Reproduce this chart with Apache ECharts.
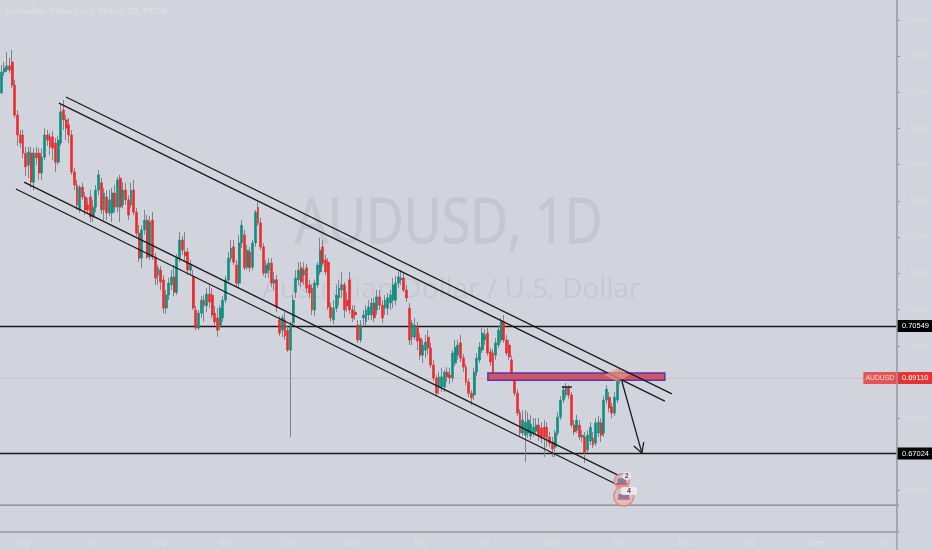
<!DOCTYPE html>
<html><head><meta charset="utf-8"><style>html,body{margin:0;padding:0;background:#d1d4dc}#c{width:932px;height:550px}</style>
<script src="https://cdn.jsdelivr.net/npm/echarts@6/dist/echarts.min.js"></script></head><body><div id="c"></div>
<script>
// Prices in 1/10000 of a US dollar
const opens=[7698,7756,7762,7773,7784,7720,7637,7582,7582,7532,7499,7532,7452,7532,7532,7477,7521,7582,7577,7577,7560,7507,7560,7651,7624,7610,7582,7480,7444,7375,7438,7411,7389,7411,7356,7383,7430,7450,7375,7411,7367,7367,7422,7383,7463,7389,7430,7403,7389,7430,
7369,7311,7242,7320,7347,7245,7347,7245,7195,7209,7182,7104,7140,7168,7190,7148,7242,7292,7259,7259,7209,7190,7099,7049,7090,7126,7110,7143,7140,7090,7077,7057,7077,7126,7182,7242,7273,7223,7173,7284,7306,7217,7259,7217,7284,7383,7339,7273,7201,7209,
7228,7173,7182,7071,7043,7071,7043,6988,7063,7148,7182,7215,7195,7215,7168,7159,7099,7168,7204,7273,7237,7231,7107,7071,7104,7132,7154,7168,7126,7182,7099,7093,7057,7016,7077,7066,7085,7085,7118,7099,7135,7112,7104,7104,7118,7126,7126,7173,7182,7187,
7154,7104,7024,7024,7052,7021,6974,6988,7024,6994,6947,6911,6886,6886,6886,6927,6919,6911,6952,6974,7008,6966,6941,6900,6869,6864,6927,6961,6988,7016,7035,6983,6980,6974,7002,7016,7066,7016,7002,6961,6905,6869,6814,6759,6753,6759,6751,6759,6764,6781,
6773,6775,6775,6748,6734,6720,6759,6803,6850,6864,6883,6864,6781,6767,6781,6748,6748,6712,6737,6745,6731,6759,6787,6759,6850,6858,6831,6814,6850,6905,6925];
const closes=[7756,7767,7773,7762,7720,7637,7582,7560,7532,7494,7535,7452,7532,7519,7477,7521,7582,7568,7549,7546,7507,7568,7646,7624,7601,7582,7480,7444,7389,7438,7411,7375,7375,7356,7383,7430,7472,7375,7422,7367,7403,7422,7383,7458,7383,7430,7403,7361,7430,7369,
7311,7242,7320,7347,7245,7342,7245,7187,7215,7176,7104,7140,7173,7190,7148,7242,7292,7264,7248,7209,7226,7104,7049,7090,7126,7112,7143,7121,7085,7066,7043,7104,7126,7182,7242,7270,7231,7173,7284,7333,7215,7264,7215,7284,7369,7339,7273,7201,7223,7228,
7173,7182,7107,7035,7077,7027,6988,7052,7126,7187,7209,7176,7209,7159,7146,7099,7173,7223,7264,7228,7204,7107,7077,7104,7140,7159,7168,7099,7110,7099,7077,7085,7016,7057,7085,7099,7107,7118,7077,7135,7112,7077,7126,7132,7140,7168,7173,7190,7187,7154,
7132,7016,7063,7057,7013,6974,7002,7010,6994,6947,6911,6869,6914,6914,6927,6914,6911,6980,6996,7002,6966,6941,6900,6869,6856,6927,6966,6996,7035,7030,6980,6955,6919,7008,7043,7066,7016,6980,6969,6911,6869,6814,6759,6795,6789,6795,6784,6775,6781,6751,
6745,6748,6745,6731,6715,6759,6803,6850,6878,6883,6864,6781,6762,6795,6748,6753,6704,6753,6775,6726,6787,6789,6753,6850,6880,6828,6814,6858,6905,6925,6911];
const highs=[7775,7784,7811,7795,7817,7734,7651,7596,7596,7549,7549,7549,7546,7549,7546,7546,7601,7596,7588,7593,7574,7579,7665,7679,7637,7629,7596,7491,7458,7444,7450,7425,7408,7430,7403,7444,7485,7463,7436,7430,7430,7436,7444,7466,7472,7452,7450,7416,7450,7458,
7380,7333,7333,7375,7361,7358,7369,7256,7223,7220,7195,7154,7187,7209,7223,7253,7314,7303,7314,7270,7237,7209,7110,7099,7137,7140,7159,7168,7159,7110,7104,7112,7137,7193,7259,7292,7292,7237,7306,7347,7320,7278,7273,7292,7375,7397,7353,7284,7237,7242,
7242,7204,7195,7082,7085,7093,7054,7066,7140,7209,7231,7231,7231,7226,7182,7170,7182,7231,7298,7292,7251,7242,7118,7126,7168,7182,7204,7176,7148,7204,7112,7112,7071,7071,7099,7112,7126,7132,7132,7154,7154,7126,7140,7146,7154,7187,7193,7204,7209,7204,
7168,7118,7071,7077,7066,7035,7016,7030,7043,7008,6961,6919,6927,6939,6933,6941,6939,6988,7016,7016,7030,6977,6950,6908,6878,6939,6980,7010,7049,7046,7049,6994,6991,7021,7057,7077,7085,7030,7016,6972,6914,6880,6825,6822,6822,6817,6809,6800,6800,6800,
6789,6795,6789,6762,6748,6767,6817,6861,6889,6897,6891,6872,6795,6809,6795,6767,6762,6767,6789,6762,6800,6806,6800,6861,6891,6872,6842,6872,6919,6936,6933];
const lows=[7695,7745,7756,7753,7712,7629,7552,7546,7519,7469,7463,7436,7430,7499,7458,7458,7513,7552,7527,7513,7480,7499,7552,7596,7568,7560,7472,7430,7375,7367,7403,7361,7367,7342,7342,7369,7416,7364,7347,7347,7358,7342,7369,7369,7342,7380,7389,7347,7380,7361,
7303,7231,7215,7306,7240,7237,7237,7168,7168,7154,7090,7088,7126,7154,7137,7140,7231,7251,7231,7195,7195,7099,7043,7043,7077,7066,7093,7104,7077,7057,7024,7043,7066,7118,7173,7231,7223,7165,7162,7270,7209,7209,7204,7209,7273,7331,7264,7193,7187,7187,
7162,7154,7093,7027,7024,7016,6983,6748,7057,7132,7168,7162,7168,7146,7132,7085,7082,7159,7195,7220,7195,7099,7066,7060,7093,7112,7132,7077,7093,7088,7066,7071,7008,7008,7057,7054,7071,7071,7066,7085,7099,7063,7085,7085,7099,7104,7112,7159,7168,7148,
7121,7002,7002,7016,6988,6961,6952,6966,6974,6939,6902,6861,6867,6872,6872,6900,6894,6900,6944,6961,6955,6927,6891,6858,6836,6850,6916,6952,6980,7002,6972,6944,6914,6961,6994,7008,7008,6972,6961,6905,6861,6806,6751,6751,6679,6745,6740,6748,6753,6737,
6731,6693,6720,6720,6693,6693,6751,6795,6842,6856,6853,6773,6753,6759,6740,6734,6676,6704,6726,6717,6723,6748,6734,6748,6839,6817,6800,6806,6842,6894,6897];
const PRICE_UNIT=10000;
const slotCount=332;
// Time axis
const tickSlots=[8,33,59,83,107,130,155,179,204,229,253,277,302,326];
const tickLabels=['May','Jul','Sep','Nov','2019','Mar','May','Jul','Sep','Nov','2020','Mar','May','Jul'];
// Price axis
const priceTicks=[0.79,0.78,0.77,0.76,0.75,0.74,0.73,0.72,0.71,0.70,0.69,0.68,0.67,0.66];
const priceMin=0.64856, priceMax=0.7955;
// Drawn levels
const blackLevels=[0.70549,0.67024];
const lastPrice=0.6911;
const lowerLevel=0.6560;
// Drawings: [slot, price]
const channelUpperA=[[24.4,0.7687],[248.7,0.6867]];
const channelUpperB=[[21.8,0.7670],[246.1,0.6847]];
const channelLowerA=[[8.9,0.7452],[229.5,0.6640]];
const channelLowerB=[[5.9,0.7433],[230.2,0.6610]];
const pivotSegment=[[208,0.6886],[211.7,0.6886]];
const arrowShaft=[[230.2,0.6902],[237.6,0.6704]];
const arrowBarbs=[[234.6,0.6723],[237.6,0.6704],[238.3,0.6734]];
const zoneBox=[[180.6,0.6925],[246.1,0.6905]];
const highlight=[228.4,0.6919];
const eventFlags=[[230.2,0.6626],[230.9,0.6585]];
const eventCounts=[[232,0.6640,'2'],[232.8,0.6599,'4']];
const symbolTag=[[325.7,lastPrice]];

const categories=Array.from({length:slotCount},(_,i)=>{const k=tickSlots.indexOf(i);return k>=0?tickLabels[k]:''});
const wickData=opens.map((o,i)=>[o,closes[i],lows[i],highs[i]].map(v=>v/PRICE_UNIT));
const bodyData=opens.map((o,i)=>{const c=closes[i];return [o,c,Math.min(o,c),Math.max(o,c)].map(v=>v/PRICE_UNIT)});
const isTick=i=>tickSlots.indexOf(i)>=0;
const FONT='"Liberation Sans",Arial,sans-serif';
const faint='#dcdee3', axisC='#a0a4ae', lineC='#1a1a1a';
const seg=(name,data,w)=>({name,type:'line',xAxisIndex:1,data,symbol:'none',silent:true,z:6,clip:false,lineStyle:{color:lineC,width:w||1.3},animation:false});
const valueTag=(bg)=>({show:true,position:'end',distance:0,backgroundColor:bg,color:'#fff',fontSize:7.5,fontFamily:FONT,padding:[2,4,2,5],width:27,height:8,align:'left',verticalAlign:'middle',lineHeight:8});

const chart=echarts.init(document.getElementById('c'),null,{renderer:'canvas'});
chart.setOption({
 animation:false,backgroundColor:'#d1d4dc',
 grid:{left:0,top:0,width:897,height:532,containLabel:false},
 graphic:[
  {type:'text',z:0,left:5,top:7,style:{text:'Australian Dollar / U.S. Dollar, 1D, FXCM',font:'bold 8.5px '+FONT,fill:faint}},
  {type:'text',z:0,x:295,y:194,scaleX:0.84,style:{text:'AUDUSD, 1D',font:'62px "Open Sans",sans-serif',fill:'#c4c7d0',stroke:'#c4c7d0',lineWidth:1}},
  {type:'text',z:0,left:262,top:276,style:{text:'Australian Dollar / U.S. Dollar',font:'28px "Open Sans",sans-serif',fill:'#c6c9d2'}}
 ],
 xAxis:[
  {type:'category',data:categories,boundaryGap:true,
   axisLine:{onZero:false,lineStyle:{color:axisC,width:1.5}},
   axisTick:{alignWithLabel:true,interval:i=>isTick(i),length:3,lineStyle:{color:'#8a8e99'}},
   axisLabel:{interval:i=>isTick(i),color:faint,fontSize:7.5,fontFamily:FONT,margin:7,hideOverlap:false},
   splitLine:{show:false}},
  {type:'value',show:false,min:0,max:slotCount,splitLine:{show:false}}
 ],
 yAxis:[{type:'value',position:'right',min:priceMin,max:priceMax,scale:true,
   axisLine:{show:true,onZero:false,lineStyle:{color:axisC,width:1.5}},
   axisTick:{show:true,customValues:priceTicks,length:3,lineStyle:{color:'#8a8e99'}},
   axisLabel:{customValues:priceTicks,color:faint,fontSize:7.5,fontFamily:FONT,margin:5,formatter:v=>v.toFixed(5)},
   splitLine:{show:false}}],
 series:[
  {name:'wicks',type:'candlestick',data:wickData,barWidth:1,z:3,silent:true,
   itemStyle:{color:'#7f838e',color0:'#7f838e',borderColor:'#7f838e',borderColor0:'#7f838e',borderWidth:1}},
  {name:'AUDUSD',type:'candlestick',data:bodyData,barWidth:2.4,z:4,silent:true,
   itemStyle:{color:'#0f8f7e',color0:'#ee2a2a',borderColor:'#0f8f7e',borderColor0:'#ee2a2a',borderWidth:0.6},
   markLine:{silent:true,symbol:'none',animation:false,precision:5,z:2,
    data:[
     ...blackLevels.map(v=>({yAxis:v,lineStyle:{color:lineC,width:1.3,type:'solid'},
       label:{...valueTag('#000'),formatter:()=>v.toFixed(5)}})),
     {yAxis:lastPrice,lineStyle:{color:'#d9bcc4',width:1,type:'solid'},
       label:{...valueTag('#e33537'),formatter:()=>lastPrice.toFixed(5)}}
    ]}},
  {name:'zone',type:'line',xAxisIndex:1,data:[],z:5,silent:true,
   markArea:{silent:true,animation:false,z:5,itemStyle:{color:'#cd5565',borderColor:'#5c35a8',borderWidth:1.5,opacity:1},
    data:[[{coord:zoneBox[0]},{coord:zoneBox[1]}]]}},
  seg('channelUpperA',channelUpperA),seg('channelUpperB',channelUpperB),
  seg('channelLowerA',channelLowerA),seg('channelLowerB',channelLowerB),
  seg('pivotSegment',pivotSegment,1.5),seg('arrowShaft',arrowShaft),seg('arrowBarbs',arrowBarbs),
  {name:'lowerLevel',type:'line',xAxisIndex:1,data:[[0,lowerLevel],[345,lowerLevel]],symbol:'none',clip:false,silent:true,z:2,lineStyle:{color:'#83868f',width:1.2}},
  {name:'xBorder',type:'line',xAxisIndex:1,data:[[0,priceMin],[345,priceMin]],symbol:'none',clip:false,silent:true,z:2,lineStyle:{color:axisC,width:1.5}},
  {name:'yBorder',type:'line',xAxisIndex:1,data:[[slotCount,priceMax],[slotCount,0.6436]],symbol:'none',clip:false,silent:true,z:2,lineStyle:{color:axisC,width:1.5}},
  {name:'highlight',type:'scatter',xAxisIndex:1,data:[highlight],symbol:'diamond',symbolSize:[26,13],silent:true,z:7,itemStyle:{color:'rgba(236,150,135,0.85)'}},
  {name:'flagRing',type:'scatter',xAxisIndex:1,data:eventFlags,symbol:'circle',symbolSize:(v,p)=>p.dataIndex?20:15,silent:true,z:8,clip:false,
   itemStyle:{color:'#e6b7b8',borderColor:'#df7f80',borderWidth:1.5}},
  {name:'flagCanton',type:'scatter',xAxisIndex:1,data:eventFlags,symbol:'rect',symbolSize:(v,p)=>p.dataIndex?[11,4]:[9,6],silent:true,z:9,clip:false,
   itemStyle:{color:'#6b6fa6'}},
  {name:'flagStripe',type:'scatter',xAxisIndex:1,data:eventFlags.map(p=>[p[0],p[1]-0.0008]),symbol:'rect',symbolSize:[12,2],silent:true,z:9,clip:false,
   itemStyle:{color:'#d9534f'}},
  {name:'eventCount',type:'scatter',xAxisIndex:1,data:eventCounts,symbol:(v,p)=>p.dataIndex?'roundRect':'circle',symbolSize:(v,p)=>p.dataIndex?[16,8]:[8,8],silent:true,z:10,clip:false,
   itemStyle:{color:'#f4f4f6'},
   label:{show:true,position:'inside',formatter:p=>p.value[2],color:'#222',fontSize:7,fontFamily:FONT,fontWeight:'bold'}},
  {name:'symbolTag',type:'scatter',xAxisIndex:1,data:symbolTag,symbol:'rect',symbolSize:[33,12],silent:true,z:10,clip:false,
   itemStyle:{color:'#e33537'},
   label:{show:true,position:'inside',formatter:'AUDUSD',color:'#fff',fontSize:6.8,fontFamily:FONT}}
 ]
});
</script></body></html>
